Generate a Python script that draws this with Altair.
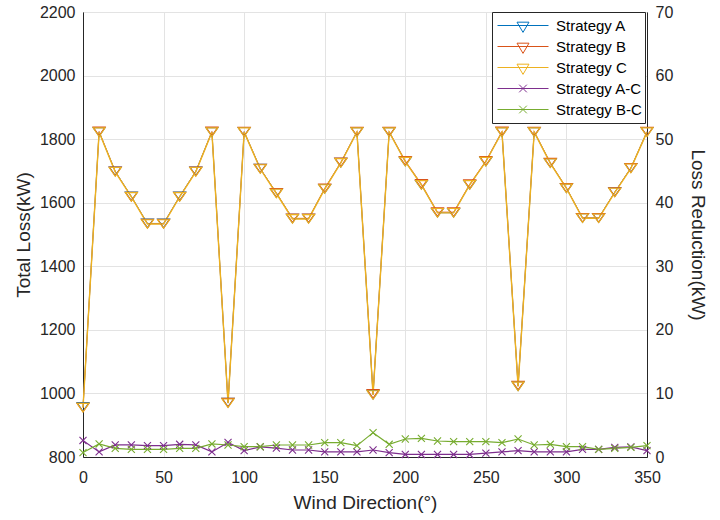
import altair as alt
import pandas as pd

# ---------------- data ----------------
wind = [0, 10, 20, 30, 40, 50, 60, 70, 80, 90, 100, 110, 120, 130, 140, 150, 160, 170,
        180, 190, 200, 210, 220, 230, 240, 250, 260, 270, 280, 290, 300, 310, 320, 330, 340, 350]

loss_a = [957.6, 1822.8, 1698.9, 1619.9, 1534.8, 1534.8, 1620.0, 1698.9, 1822.8, 971.3,
          1823.0, 1707.6, 1630.4, 1550.1, 1550.1, 1643.8, 1725.8, 1822.8, 996.1, 1822.7,
          1729.4, 1656.4, 1568.4, 1568.4, 1656.4, 1729.6, 1822.8, 1023.0, 1822.8, 1724.8,
          1645.8, 1552.2, 1552.2, 1633.5, 1709.6, 1823.0]
loss_b = [955.7, 1824.1, 1698.4, 1619.2, 1534.2, 1534.2, 1619.4, 1698.4, 1824.1, 970.9,
          1823.6, 1707.6, 1630.9, 1550.9, 1550.9, 1645.3, 1727.3, 1823.8, 998.8, 1824.0,
          1731.8, 1658.9, 1570.5, 1570.4, 1658.4, 1731.4, 1824.3, 1024.8, 1823.9, 1726.0,
          1646.6, 1552.6, 1552.2, 1633.4, 1709.5, 1823.8]
loss_c = [955, 1822, 1697, 1618, 1533, 1533, 1618, 1697, 1822, 969,
          1822, 1706, 1629, 1549, 1549, 1643, 1725, 1822, 995, 1822,
          1729, 1656, 1568, 1568, 1656, 1729, 1822, 1022, 1822, 1724,
          1645, 1551, 1551, 1632, 1708, 1822]

red_ac = [2.6, 0.8, 1.9, 1.9, 1.8, 1.8, 2.0, 1.9, 0.8, 2.3,
          1.0, 1.6, 1.4, 1.1, 1.1, 0.8, 0.8, 0.8, 1.1, 0.7,
          0.4, 0.4, 0.4, 0.4, 0.4, 0.6, 0.8, 1.0, 0.8, 0.8,
          0.8, 1.2, 1.2, 1.5, 1.6, 1.0]
red_bc = [0.7, 2.05, 1.36, 1.2, 1.2, 1.2, 1.36, 1.36, 2.05, 1.89,
          1.62, 1.62, 1.89, 1.89, 1.89, 2.25, 2.25, 1.78, 3.83, 2.0,
          2.83, 2.94, 2.52, 2.41, 2.41, 2.41, 2.25, 2.83, 1.89, 2.0,
          1.62, 1.62, 1.2, 1.36, 1.52, 1.78]

names = ["Strategy A", "Strategy B", "Strategy C", "Strategy A-C", "Strategy B-C"]
colors = ["#0072BD", "#D95319", "#EDB120", "#7E2F8E", "#77AC30"]
line_widths = [0.8, 0.8, 1.4, 1.2, 1.2]

x_ticks = [0, 50, 100, 150, 200, 250, 300, 350]
left_ticks = [800, 1000, 1200, 1400, 1600, 1800, 2000, 2200]
right_ticks = [0, 10, 20, 30, 40, 50, 60, 70]

# ---------------- tables ----------------
n = len(wind)
left_df = pd.DataFrame({
    "wind": wind * 3,
    "series": [names[0]] * n + [names[1]] * n + [names[2]] * n,
    "loss": loss_a + loss_b + loss_c,
})
right_df = pd.DataFrame({
    "wind": wind * 2,
    "series": [names[3]] * n + [names[4]] * n,
    "red": red_ac + red_bc,
})

FONT = "Liberation Sans"
INK = "#262626"
TRI = "M-1,-0.72L1,-0.72L0,0.72Z"
CROSS = "M-1,-1L1,1M-1,1L1,-1"
LEG_TRI = "M-1,0L1,0M-0.235,-0.13L0.235,-0.13L0,0.27Z"
LEG_CROSS = "M-1,0L1,0M-0.15,-0.15L0.15,0.15M-0.15,0.15L0.15,-0.15"

X = alt.X("wind:Q",
          scale=alt.Scale(domain=[0, 350], nice=False, zero=False),
          axis=alt.Axis(values=x_ticks, title="Wind Direction(°)", grid=True,
                        labelPadding=12, titlePadding=8, format="d", labelFlush=False))
YL = alt.Y("loss:Q",
           scale=alt.Scale(domain=[800, 2200], nice=False, zero=False),
           axis=alt.Axis(values=left_ticks, title="Total Loss(kW)", orient="left",
                         grid=True, labelPadding=8, titlePadding=6, format="d",
                         labelFlush=False))
YR = alt.Y("red:Q",
           scale=alt.Scale(domain=[0, 70], nice=False, zero=False),
           axis=alt.Axis(values=right_ticks, title="Loss Reduction(kW)", orient="right",
                         grid=False, labelPadding=8, titlePadding=15, format="d",
                         labelFlush=False))

lbase = alt.Chart(left_df)
rbase = alt.Chart(right_df)

left_layers = []
for i in range(3):
    left_layers.append(
        lbase.transform_filter(alt.datum.series == names[i])
        .mark_line(color=colors[i], strokeWidth=line_widths[i])
        .encode(x=X, y=YL)
    )
for i in range(3):
    left_layers.append(
        lbase.transform_filter(alt.datum.series == names[i])
        .mark_point(shape=TRI, size=144, filled=False, color=colors[i],
                    strokeWidth=1.1, opacity=1)
        .encode(x=X, y=YL)
    )

leg = alt.Legend(title=None, orient="none", legendX=409, legendY=0, padding=3,
                 clipHeight=21, rowPadding=0, symbolSize=2601, symbolStrokeWidth=1,
                 symbolOffset=2, labelOffset=7, labelFontSize=15, labelFont=FONT,
                 labelColor="#000000", strokeColor=INK, fillColor="white")
legend_layer = (
    lbase.transform_filter("false")
    .mark_point(filled=False, opacity=1)
    .encode(
        x=X, y=YL,
        color=alt.Color("series:N", scale=alt.Scale(domain=names, range=colors), legend=leg),
        shape=alt.Shape("series:N",
                        scale=alt.Scale(domain=names,
                                        range=[LEG_TRI, LEG_TRI, LEG_TRI, LEG_CROSS, LEG_CROSS]),
                        legend=leg),
    )
)
left_layers.append(legend_layer)

right_layers = []
for i in (3, 4):
    right_layers.append(
        rbase.transform_filter(alt.datum.series == names[i])
        .mark_line(color=colors[i], strokeWidth=line_widths[i])
        .encode(x=X, y=YR)
    )
for i in (3, 4):
    right_layers.append(
        rbase.transform_filter(alt.datum.series == names[i])
        .mark_point(shape=CROSS, size=50, filled=False, color=colors[i],
                    strokeWidth=1.1, opacity=1)
        .encode(x=X, y=YR)
    )

left = alt.layer(*left_layers)
right = alt.layer(*right_layers)

chart = (
    alt.layer(left, right)
    .resolve_scale(y="independent")
    .properties(
        width=564, height=445,
        autosize=alt.AutoSizeParams(type="none"),
        padding={"left": 83, "top": 12, "right": 73, "bottom": 63},
        background="white",
    )
    .configure_view(stroke=INK, strokeWidth=1)
    .configure_axis(
        labelFont=FONT, labelFontSize=16, labelColor=INK,
        titleFont=FONT, titleFontSize=19, titleFontWeight="normal", titleColor=INK,
        domainColor=INK, domainWidth=1, ticks=False, tickSize=0,
        gridColor="#e3e3e3", gridWidth=1,
    )
)

chart.save("out.html", embed_options={"renderer": "svg", "actions": False})
